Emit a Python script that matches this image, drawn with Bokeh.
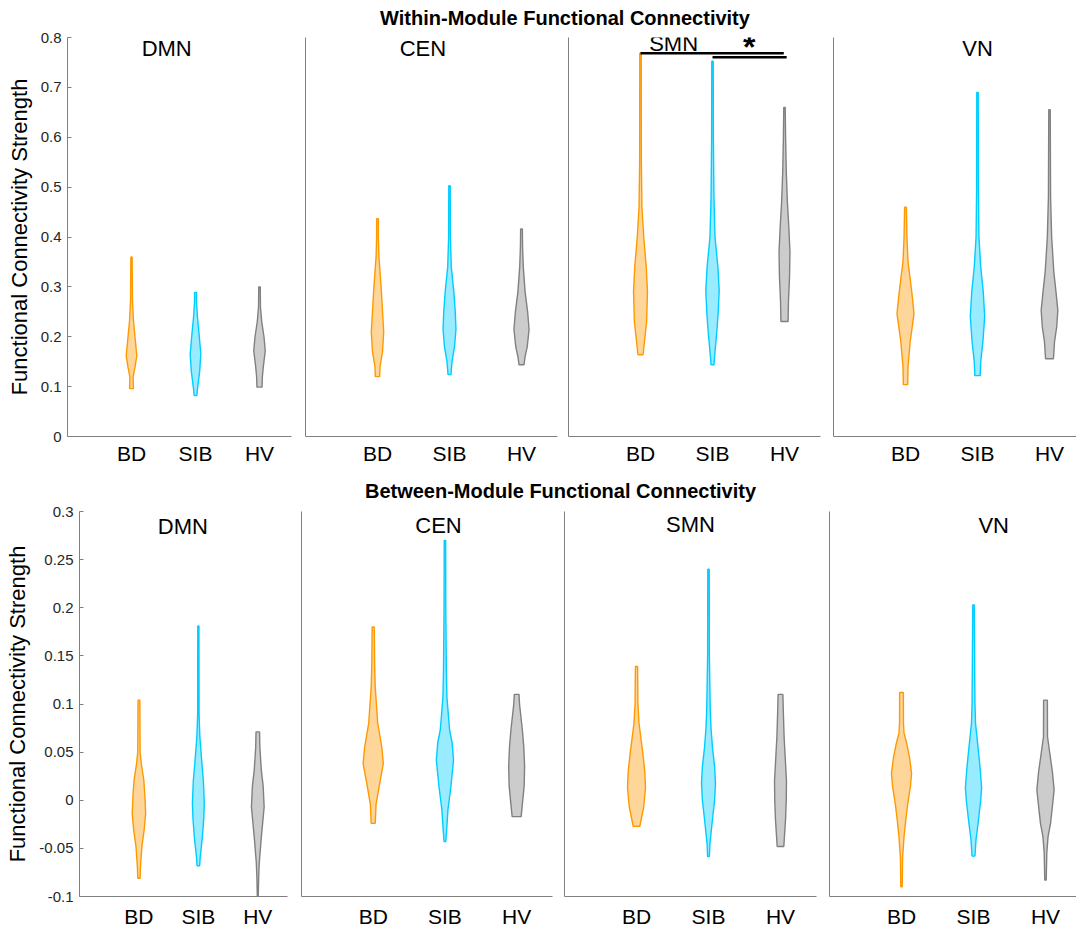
from bokeh.plotting import figure
from bokeh.layouts import column, row
from bokeh.models import Range1d, FixedTicker, Label
from bokeh.core.properties import value
from bokeh.embed import file_html
from bokeh.resources import INLINE

# ---------------- data ----------------
GROUPS = ["BD", "SIB", "HV"]
GROUP_POS = [1, 2, 3]
NETWORKS = ["DMN", "CEN", "SMN", "VN"]
ROW_TITLES = ["Within-Module Functional Connectivity", "Between-Module Functional Connectivity"]
Y_LABEL = "Functional Connectivity Strength"

WITHIN_Y_TICKS = [0, 0.1, 0.2, 0.3, 0.4, 0.5, 0.6, 0.7, 0.8]
WITHIN_Y_LABELS = ["0", "0.1", "0.2", "0.3", "0.4", "0.5", "0.6", "0.7", "0.8"]
BETWEEN_Y_TICKS = [-0.1, -0.05, 0, 0.05, 0.1, 0.15, 0.2, 0.25, 0.3]
BETWEEN_Y_LABELS = ["-0.1", "-0.05", "0", "0.05", "0.1", "0.15", "0.2", "0.25", "0.3"]

# violin outlines: value levels (bottom -> top) and half-widths (x units)
WITHIN_DMN = {
    "BD": ([0.096, 0.119, 0.139, 0.162, 0.1925, 0.233, 0.273, 0.36],
           [0.03, 0.025, 0.055, 0.083, 0.06, 0.03, 0.015, 0.01]),
    "SIB": ([0.082, 0.10, 0.13, 0.165, 0.20, 0.24, 0.27, 0.289],
            [0.02, 0.035, 0.065, 0.083, 0.06, 0.03, 0.015, 0.015]),
    "HV": ([0.099, 0.12, 0.14, 0.172, 0.20, 0.23, 0.26, 0.30],
           [0.04, 0.045, 0.06, 0.09, 0.07, 0.035, 0.015, 0.012]),
}
WITHIN_CEN = {
    "BD": ([0.120, 0.14, 0.17, 0.21, 0.25, 0.30, 0.36, 0.40, 0.4365],
           [0.03, 0.035, 0.07, 0.086, 0.07, 0.05, 0.02, 0.012, 0.012]),
    "SIB": ([0.124, 0.15, 0.18, 0.215, 0.25, 0.29, 0.34, 0.40, 0.503],
            [0.02, 0.035, 0.07, 0.09, 0.08, 0.06, 0.025, 0.012, 0.01]),
    "HV": ([0.144, 0.16, 0.18, 0.215, 0.25, 0.29, 0.34, 0.38, 0.416],
           [0.035, 0.05, 0.08, 0.105, 0.085, 0.05, 0.025, 0.015, 0.012]),
}
WITHIN_SMN = {
    "BD": ([0.164, 0.19, 0.23, 0.29, 0.34, 0.40, 0.46, 0.55, 0.7685],
           [0.035, 0.055, 0.085, 0.097, 0.08, 0.045, 0.02, 0.012, 0.01]),
    "SIB": ([0.144, 0.17, 0.21, 0.25, 0.293, 0.34, 0.40, 0.48, 0.60, 0.7525],
            [0.02, 0.035, 0.06, 0.08, 0.093, 0.075, 0.035, 0.02, 0.012, 0.01]),
    "HV": ([0.2306, 0.27, 0.32, 0.37, 0.42, 0.47, 0.53, 0.60, 0.66],
           [0.05, 0.055, 0.07, 0.076, 0.06, 0.04, 0.025, 0.015, 0.01]),
}
WITHIN_VN = {
    "BD": ([0.104, 0.14, 0.19, 0.246, 0.28, 0.31, 0.35, 0.40, 0.46],
           [0.03, 0.035, 0.065, 0.118, 0.095, 0.07, 0.035, 0.02, 0.012]),
    "SIB": ([0.122, 0.15, 0.19, 0.24, 0.29, 0.34, 0.40, 0.50, 0.69],
            [0.037, 0.045, 0.075, 0.1, 0.08, 0.045, 0.02, 0.012, 0.01]),
    "HV": ([0.156, 0.19, 0.22, 0.253, 0.29, 0.33, 0.40, 0.48, 0.655],
           [0.055, 0.07, 0.1, 0.116, 0.09, 0.06, 0.03, 0.015, 0.01]),
}
BETWEEN_DMN = {
    "BD": ([-0.081, -0.07, -0.048, -0.03, -0.014, 0.005, 0.021, 0.038, 0.05, 0.104],
           [0.02, 0.025, 0.05, 0.09, 0.113, 0.1, 0.082, 0.04, 0.02, 0.015]),
    "SIB": ([-0.068, -0.06, -0.038, -0.02, -0.003, 0.02, 0.038, 0.066, 0.09, 0.181],
            [0.022, 0.03, 0.068, 0.09, 0.1, 0.085, 0.06, 0.025, 0.012, 0.01]),
    "HV": ([-0.1, -0.08, -0.065, -0.038, -0.007, 0.015, 0.031, 0.055, 0.071],
           [0.008, 0.015, 0.025, 0.06, 0.107, 0.09, 0.06, 0.035, 0.03]),
}
BETWEEN_CEN = {
    "BD": ([-0.024, -0.004, 0.0175, 0.038, 0.055, 0.08, 0.118, 0.141, 0.18],
           [0.028, 0.04, 0.09, 0.141, 0.12, 0.063, 0.028, 0.02, 0.015]),
    "SIB": ([-0.043, -0.03, -0.01, 0.014, 0.042, 0.06, 0.073, 0.107, 0.135, 0.2, 0.27],
            [0.012, 0.025, 0.042, 0.083, 0.12, 0.1, 0.065, 0.028, 0.02, 0.012, 0.01]),
    "HV": ([-0.017, -0.004, 0.015, 0.035, 0.055, 0.073, 0.1, 0.11],
           [0.063, 0.08, 0.105, 0.111, 0.1, 0.08, 0.04, 0.033]),
}
BETWEEN_SMN = {
    "BD": ([-0.027, -0.007, 0.013, 0.03, 0.049, 0.065, 0.08, 0.1, 0.139],
           [0.046, 0.1, 0.125, 0.115, 0.088, 0.06, 0.035, 0.02, 0.015]),
    "SIB": ([-0.0585, -0.045, -0.02, 0.0, 0.0175, 0.035, 0.055, 0.075, 0.093, 0.15, 0.24],
            [0.012, 0.02, 0.055, 0.085, 0.097, 0.085, 0.055, 0.035, 0.025, 0.012, 0.01]),
    "HV": ([-0.048, -0.02, 0.0, 0.02, 0.045, 0.066, 0.09, 0.11],
           [0.046, 0.07, 0.08, 0.083, 0.065, 0.05, 0.04, 0.033]),
}
BETWEEN_VN = {
    "BD": ([-0.09, -0.06, -0.038, -0.02, -0.004, 0.015, 0.028, 0.045, 0.059, 0.07, 0.08, 0.112],
           [0.01, 0.015, 0.035, 0.06, 0.086, 0.125, 0.14, 0.11, 0.072, 0.035, 0.027, 0.026]),
    "SIB": ([-0.058, -0.041, -0.02, 0.0, 0.013, 0.035, 0.055, 0.08, 0.1, 0.203],
            [0.02, 0.035, 0.07, 0.1, 0.113, 0.09, 0.063, 0.028, 0.02, 0.01]),
    "HV": ([-0.083, -0.055, -0.038, -0.024, 0.0, 0.011, 0.03, 0.047, 0.066, 0.104],
           [0.01, 0.018, 0.035, 0.07, 0.105, 0.12, 0.095, 0.063, 0.028, 0.026]),
}

# significance bars in Within-Module SMN (from group, to group end, level)
SIG_X0 = [1.0, 2.0]
SIG_X1 = [2.99, 3.03]
SIG_Y = [0.7685, 0.7605]
SIG_STAR = "*"

# ---------------- style / layout ----------------
LINE_COLORS = {"BD": "#FF9900", "SIB": "#00CCFF", "HV": "#808080"}
FONT = "Liberation Sans"
AXIS_COLOR = "#808080"

# fig width, border left, border right, x-range end, panel-title position (data units)
TOP_PANELS = [
    dict(w=298, bl=67, br=7, xend=3.5, tx=1.55, ty=0.778),
    dict(w=264, bl=7, br=5, xend=3.5, tx=1.63, ty=0.778),
    dict(w=265, bl=6, br=7, xend=3.5, tx=1.46, ty=0.788),
    dict(w=249, bl=6, br=0, xend=(243 / 72.0), tx=2.0, ty=0.778),
]
BOT_PANELS = [
    dict(w=294, bl=79, br=7, xend=3.5, tx=1.74, ty=0.284),
    dict(w=264, bl=7, br=6, xend=3.5, tx=1.91, ty=0.285),
    dict(w=265, bl=6, br=7, xend=3.5, tx=1.75, ty=0.287),
    dict(w=253, bl=6, br=0, xend=(247 / 72.0), tx=2.28, ty=0.285),
]
STAR_POS = (2.51, 0.781)


def make_panel(spec, height, bt, bb, yr, data, name, first, yticks, ylabels, xstand):
    p = figure(width=spec["w"], height=height,
               x_range=Range1d(0, spec["xend"]), y_range=Range1d(*yr),
               min_border_left=spec["bl"], min_border_right=spec["br"],
               min_border_top=bt, min_border_bottom=bb,
               toolbar_location=None, tools="", output_backend="svg")
    p.outline_line_color = None
    p.xgrid.visible = False
    p.ygrid.visible = False
    p.background_fill_color = "white"
    p.border_fill_color = "white"

    for g, c in zip(GROUPS, GROUP_POS):
        ys, ws = data[g]
        xs = [c + w for w in ws] + [c - w for w in reversed(ws)]
        yy = list(ys) + list(reversed(ys))
        p.patch(xs, yy, fill_color=LINE_COLORS[g], fill_alpha=0.4,
                line_color=LINE_COLORS[g], line_width=1.4)

    p.add_layout(Label(x=spec["tx"], y=spec["ty"], text=name, text_align="center",
                       text_baseline="middle", text_font=FONT,
                       text_font_size="22px", text_color="#000000"))

    xa = p.xaxis[0]
    xa.ticker = FixedTicker(ticks=GROUP_POS)
    xa.major_label_overrides = {c: g for c, g in zip(GROUP_POS, GROUPS)}
    xa.major_tick_line_color = None
    xa.major_tick_in = 0
    xa.major_tick_out = 0
    xa.minor_tick_line_color = None
    xa.minor_tick_in = 0
    xa.minor_tick_out = 0
    xa.axis_line_color = AXIS_COLOR
    xa.major_label_text_font = FONT
    xa.major_label_text_font_size = "21px"
    xa.major_label_text_color = "#000000"
    xa.major_label_standoff = xstand

    ya = p.yaxis[0]
    ya.axis_line_color = AXIS_COLOR
    ya.minor_tick_line_color = None
    ya.minor_tick_in = 0
    ya.minor_tick_out = 0
    if first:
        ya.ticker = FixedTicker(ticks=yticks)
        ya.major_label_overrides = {t: l for t, l in zip(yticks, ylabels)}
        ya.major_tick_in = 4
        ya.major_tick_out = 0
        ya.major_tick_line_color = AXIS_COLOR
        ya.major_label_text_font = FONT
        ya.major_label_text_font_size = "15px"
        ya.major_label_text_color = "#262626"
        ya.major_label_standoff = 6
        ya.axis_label = Y_LABEL
        ya.axis_label_text_font = FONT
        ya.axis_label_text_font_style = "normal"
        ya.axis_label_text_font_size = "22px"
        ya.axis_label_text_color = "#000000"
        ya.axis_label_standoff = 6
    else:
        ya.ticker = FixedTicker(ticks=[])
        ya.major_tick_line_color = None
        ya.major_tick_in = 0
        ya.major_tick_out = 0
    return p


def title_strip(text, height, cx, cy):
    p = figure(width=1076, height=height, x_range=Range1d(0, 1076), y_range=Range1d(0, height),
               min_border=0, toolbar_location=None, tools="", output_backend="svg",
               x_axis_location=None, y_axis_location=None)
    p.outline_line_color = None
    p.xgrid.visible = False
    p.ygrid.visible = False
    p.text(x=[cx], y=[cy], text=[text], text_align="center", text_baseline="middle",
           text_font=value(FONT), text_font_style="bold", text_font_size="20px",
           text_color="#000000")
    return p


within = [WITHIN_DMN, WITHIN_CEN, WITHIN_SMN, WITHIN_VN]
between = [BETWEEN_DMN, BETWEEN_CEN, BETWEEN_SMN, BETWEEN_VN]

top_figs = []
for i, (spec, data, name) in enumerate(zip(TOP_PANELS, within, NETWORKS)):
    p = make_panel(spec, 449, 8, 42, (0, 0.8), data, name, i == 0,
                   WITHIN_Y_TICKS, WITHIN_Y_LABELS, 5)
    if name == "SMN":
        p.segment(x0=SIG_X0, y0=SIG_Y, x1=SIG_X1, y1=SIG_Y, line_color="black", line_width=2.4)
        p.add_layout(Label(x=STAR_POS[0], y=STAR_POS[1], text=SIG_STAR, text_align="center",
                           text_baseline="middle", text_font=FONT, text_font_style="bold",
                           text_font_size="32px", text_color="#000000"))
    top_figs.append(p)

bot_figs = []
for i, (spec, data, name) in enumerate(zip(BOT_PANELS, between, NETWORKS)):
    p = make_panel(spec, 428, 9, 33, (-0.1, 0.3), data, name, i == 0,
                   BETWEEN_Y_TICKS, BETWEEN_Y_LABELS, 8)
    bot_figs.append(p)

t1 = title_strip(ROW_TITLES[0], 29, 564.5, 11.2)
t2 = title_strip(ROW_TITLES[1], 24, 560, 11.5)

layout = column(t1, row(*top_figs, spacing=0), t2, row(*bot_figs, spacing=0), spacing=0)

with open("out.html", "w") as f:
    f.write(file_html(layout, INLINE))
